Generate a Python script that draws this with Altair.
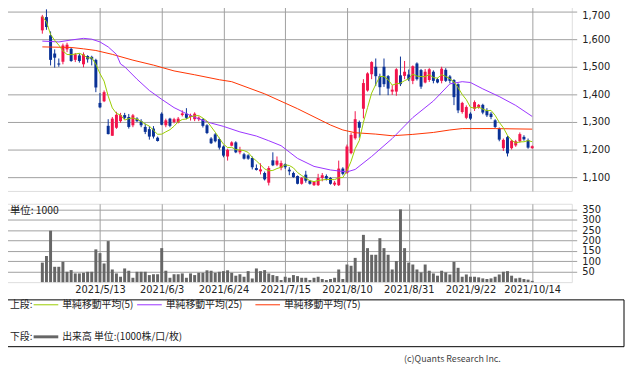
import altair as alt
import pandas as pd

# ---- candle data (trading-day index 0..119, 2021/4/19 .. 2021/10/14) ----
opens = [1632, 1680, 1614, 1548, 1512, 1518, 1563, 1565, 1525, 1541,
         1509, 1539, 1536, 1525, 1369, 1375, 1286, 1250, 1279, 1303,
         1325, 1318, 1288, 1312, 1303, 1282, 1274, 1276, 1243, 1330,
         1288, 1312, 1300, 1298, 1325, 1330, 1318, 1310, 1310, 1310,
         1288, 1240, 1255, 1238, 1211, 1175, 1214, 1226, 1190, 1183,
         1179, 1169, 1133, 1121, 1115, 1080, 1161, 1145, 1133, 1147,
         1127, 1115, 1104, 1076, 1109, 1087, 1071, 1071, 1097, 1104,
         1097, 1073, 1071, 1131, 1115, 1187, 1241, 1300, 1348, 1414,
         1473, 1500, 1466, 1500, 1466, 1410, 1410, 1469, 1467, 1472,
         1449, 1512, 1488, 1443, 1452, 1482, 1455, 1449, 1489, 1465,
         1452, 1437, 1336, 1315, 1330, 1348, 1354, 1362, 1342, 1330,
         1306, 1276, 1205, 1245, 1205, 1215, 1230, 1246, 1234, 1205]
highs = [1688, 1708, 1628, 1563, 1530, 1584, 1587, 1570, 1550, 1548,
         1552, 1542, 1540, 1529, 1405, 1414, 1310, 1318, 1337, 1333,
         1333, 1329, 1329, 1317, 1310, 1294, 1285, 1285, 1247, 1335,
         1312, 1315, 1315, 1318, 1342, 1350, 1330, 1335, 1320, 1313,
         1292, 1245, 1260, 1243, 1215, 1203, 1230, 1230, 1210, 1188,
         1183, 1175, 1146, 1150, 1120, 1140, 1190, 1175, 1160, 1150,
         1136, 1120, 1106, 1100, 1123, 1090, 1086, 1112, 1115, 1110,
         1100, 1086, 1160, 1136, 1218, 1261, 1339, 1305, 1455, 1480,
         1520, 1530, 1475, 1530, 1470, 1433, 1495, 1537, 1521, 1490,
         1505, 1516, 1492, 1492, 1495, 1487, 1460, 1500, 1495, 1470,
         1455, 1440, 1373, 1360, 1335, 1378, 1365, 1366, 1350, 1336,
         1310, 1280, 1240, 1250, 1235, 1235, 1262, 1252, 1240, 1215]
lows = [1620, 1634, 1505, 1497, 1500, 1509, 1553, 1518, 1517, 1515,
        1498, 1515, 1505, 1408, 1350, 1372, 1255, 1250, 1275, 1297,
        1310, 1276, 1281, 1300, 1281, 1256, 1236, 1240, 1229, 1288,
        1281, 1281, 1295, 1295, 1320, 1310, 1305, 1303, 1303, 1280,
        1256, 1220, 1226, 1200, 1172, 1160, 1212, 1187, 1183, 1164,
        1163, 1128, 1124, 1110, 1088, 1070, 1140, 1140, 1125, 1130,
        1107, 1098, 1074, 1073, 1080, 1073, 1068, 1068, 1085, 1088,
        1073, 1068, 1068, 1107, 1112, 1183, 1236, 1243, 1313, 1410,
        1455, 1430, 1397, 1427, 1397, 1398, 1395, 1430, 1455, 1448,
        1437, 1450, 1420, 1440, 1445, 1440, 1440, 1440, 1445, 1440,
        1361, 1332, 1330, 1310, 1307, 1340, 1348, 1328, 1318, 1310,
        1278, 1230, 1195, 1175, 1200, 1210, 1225, 1232, 1203, 1203]
closes = [1682, 1644, 1525, 1533, 1508, 1577, 1580, 1521, 1545, 1521,
          1545, 1527, 1527, 1425, 1353, 1408, 1256, 1312, 1326, 1325,
          1315, 1282, 1324, 1303, 1288, 1264, 1247, 1247, 1231, 1290,
          1306, 1286, 1310, 1312, 1331, 1315, 1324, 1330, 1316, 1286,
          1260, 1223, 1230, 1207, 1178, 1199, 1226, 1190, 1199, 1167,
          1167, 1136, 1126, 1128, 1092, 1133, 1143, 1160, 1151, 1136,
          1121, 1100, 1076, 1097, 1087, 1076, 1083, 1097, 1107, 1095,
          1076, 1080, 1131, 1112, 1211, 1253, 1310, 1279, 1441, 1476,
          1517, 1466, 1426, 1437, 1421, 1417, 1491, 1437, 1482, 1455,
          1502, 1455, 1428, 1482, 1491, 1449, 1443, 1493, 1449, 1449,
          1390, 1342, 1369, 1354, 1312, 1372, 1362, 1334, 1324, 1318,
          1282, 1236, 1235, 1186, 1232, 1230, 1256, 1237, 1207, 1212]
volumes = [94, 126, 248, 74, 74, 98, 50, 58, 42, 42,
           45, 50, 50, 158, 140, 90, 198, 61, 42, 26,
           66, 55, 21, 50, 50, 50, 34, 38, 38, 164,
           55, 21, 38, 38, 42, 21, 42, 34, 45, 45,
           57, 55, 45, 50, 53, 57, 45, 31, 38, 26,
           53, 18, 66, 53, 58, 42, 34, 29, 10, 26,
           21, 34, 29, 21, 21, 10, 21, 26, 15, 10,
           15, 21, 61, 15, 85, 79, 117, 50, 228, 164,
           132, 132, 212, 164, 132, 61, 102, 351, 164, 94,
           85, 61, 47, 85, 55, 42, 31, 55, 47, 37,
           98, 69, 26, 37, 26, 26, 23, 18, 15, 18,
           26, 37, 50, 53, 31, 18, 21, 15, 12, 6]

# ---- moving averages ----
sma25_idx = [0, 4, 7, 10, 12, 14, 16, 18, 19, 20, 23, 26, 29, 32, 35, 38, 41, 44,
             48, 52, 55, 58, 62, 66, 70, 74, 76, 80, 85, 90, 95, 99, 102, 104,
             107, 111, 115, 119]
sma25_val = [1593, 1590, 1597, 1603, 1600, 1590, 1572, 1545, 1510, 1500, 1455, 1414,
             1382, 1352, 1330, 1311, 1296, 1284, 1264, 1249, 1232, 1214, 1168, 1139,
             1126, 1119, 1128, 1175, 1240, 1316, 1376, 1438, 1446, 1443, 1420, 1392,
             1360, 1320]
sma75_idx = [0, 7, 10, 13, 17, 22, 27, 32, 37, 43, 46, 54, 62, 70, 73, 76, 81, 85,
             90, 95, 99, 102, 110, 119]
sma75_val = [1572, 1570, 1565, 1559, 1545, 1524, 1506, 1485, 1471, 1453, 1446, 1402,
             1348, 1289, 1271, 1261, 1256, 1250, 1255, 1262, 1271, 1276, 1276, 1274]

# ---- axis ticks ----
tick_idx = [14, 29, 44, 59, 74, 89, 104, 119]
tick_labels = ["2021/5/13", "2021/6/3", "2021/6/24", "2021/7/15",
               "2021/8/10", "2021/8/31", "2021/9/22", "2021/10/14"]
price_ticks = [1100, 1200, 1300, 1400, 1500, 1600, 1700]
vol_ticks = [50, 100, 150, 200, 250, 300, 350]

FONT = "Noto Sans CJK JP"
NUMFONT = "DejaVu Sans"
UP = "#f2144b"
DOWN = "#0a3296"
GRID = "#a0a0a0"
TXT = "#222222"

df = pd.DataFrame({"i": list(range(len(closes))), "open": opens, "high": highs,
                   "low": lows, "close": closes, "vol": volumes})
df25 = pd.DataFrame({"i": sma25_idx, "v": sma25_val})
df75 = pd.DataFrame({"i": sma75_idx, "v": sma75_val})
one = pd.DataFrame({"k": [0]})

xs = alt.Scale(domain=[-8.82, 127.42], nice=False, zero=False)
ps = alt.Scale(domain=[1050, 1728.6], nice=False, zero=False)
vs = alt.Scale(domain=[0, 378], nice=False, zero=False)

label_expr = " : ".join(f"datum.value == {i} ? '{l}'" for i, l in zip(tick_idx, tick_labels)) + " : ''"

color = alt.Color("dir:N", scale=alt.Scale(domain=["up", "down"], range=[UP, DOWN]), legend=None)

base = alt.Chart(df).transform_calculate(dir="datum.close >= datum.open ? 'up' : 'down'")

x_axis_p = alt.Axis(values=tick_idx, labels=False, ticks=False, domain=False, grid=True,
                    gridColor=GRID, title=None)
y_axis_p = alt.Axis(orient="right", values=price_ticks, format=",d", labelOverlap=False,
                    labelOffset={"condition": {"test": "datum.value == 1700", "value": 4}, "value": 0},
                    grid=True, gridColor=GRID, tickColor=GRID, tickSize=5, domain=False,
                    labelFontSize=10, labelFont=NUMFONT, labelColor=TXT, labelPadding=5,
                    title=None)
xp = alt.X("i:Q", scale=xs, axis=x_axis_p)

def yp(field):
    return alt.Y(field, type="quantitative", scale=ps, axis=y_axis_p)

wick = base.mark_rule(strokeWidth=1).encode(x=xp, y=yp("low"), y2="high:Q", color=color)
body = base.mark_bar(size=3).encode(x=xp, y=yp("open"), y2="close:Q", color=color)
sma5 = alt.Chart(df).transform_window(
    sma5="mean(close)", frame=[-4, 0], sort=[alt.SortField("i")]
).mark_line(color="#99cc00", strokeWidth=1).encode(x=xp, y=yp("sma5"))
sma25 = alt.Chart(df25).mark_line(color="#9933ff", strokeWidth=1).encode(x=xp, y=yp("v"))
sma75 = alt.Chart(df75).mark_line(color="#ff3300", strokeWidth=1).encode(x=xp, y=yp("v"))

price = alt.layer(wick, body, sma75, sma25, sma5).properties(width=579, height=190)

x_axis_v = alt.Axis(values=tick_idx, labelExpr=label_expr, grid=True, gridColor=GRID,
                    ticks=False, domain=False, labelFont=NUMFONT, labelFontSize=10,
                    labelColor=TXT, labelPadding=3, labelOverlap=False, labelFlush=False,
                    title=None)
y_axis_v = alt.Axis(orient="right", values=vol_ticks, grid=True, labelOverlap=False,
                    gridColor=GRID, tickColor=GRID, tickSize=5, domain=False,
                    labelFontSize=10, labelFont=NUMFONT, labelColor=TXT, labelPadding=5,
                    title=None)
xv = alt.X("i:Q", scale=xs, axis=x_axis_v)
yv = alt.Y("vol:Q", scale=vs, axis=y_axis_v)

vol_bars = alt.Chart(df).mark_bar(size=3, color="#666666").encode(x=xv, y=yv)

def txt(s, x, y, size=10, align="left", color=TXT, font=FONT):
    return alt.Chart(one).mark_text(text=s, align=align, baseline="middle", font=font,
                                    fontSize=size, color=color).encode(
        x=alt.value(x), y=alt.value(y))

def hline(x1, x2, y, color, w=1):
    return alt.Chart(one).mark_rule(color=color, strokeWidth=w).encode(
        x=alt.value(x1), x2=alt.value(x2), y=alt.value(y))

unit_txt = txt("単位: 1000", 9, 7.5, size=10.5)

box = alt.Chart(one).mark_rect(fillOpacity=0, stroke="#000000", strokeWidth=1).encode(
    x=alt.value(0.5), x2=alt.value(632), y=alt.value(97.5), y2=alt.value(145))

leg = [
    txt("上段:", 9, 102.5), hline(33, 58, 102.5, "#99cc00"), txt("単純移動平均(5)", 62, 102.5),
    hline(138, 163, 102.5, "#9933ff"), txt("単純移動平均(25)", 167, 102.5),
    hline(258, 283, 102.5, "#ff3300"), txt("単純移動平均(75)", 287, 102.5),
    txt("下段:", 9, 135), hline(33, 58, 135, "#666666", 3), txt("出来高 単位:(1000株/口/枚)", 62, 135),
    txt("(c)Quants Research Inc.", 507, 158, size=9, align="right", color="#444444"),
]

volume = alt.layer(vol_bars, unit_txt, box, *leg).properties(width=579, height=79.5)

chart = alt.vconcat(price, volume, spacing=11).properties(
    padding={"left": -8, "top": -8, "right": 0, "bottom": 0},
    background="white",
).configure_view(stroke=GRID, strokeWidth=1).configure(font=FONT)

chart.save("out.html", embed_options={"renderer": "svg", "actions": False})
